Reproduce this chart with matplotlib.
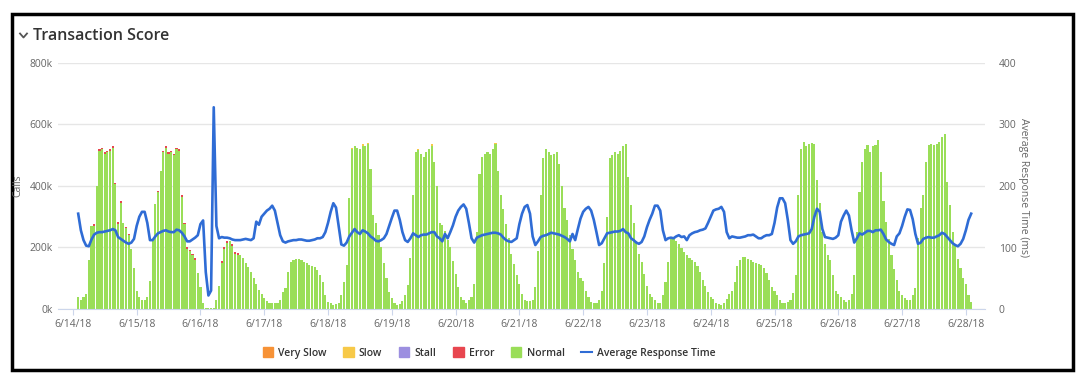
import matplotlib
matplotlib.use('Agg')
import matplotlib.pyplot as plt
from matplotlib.lines import Line2D
from matplotlib.patches import Patch, Rectangle
import numpy as np
import pandas as pd

# hourly samples, first one is 6/14/18 02:00
first_hour = 2

# calls per hour, thousands (one row per day)
calls_k = [
    38, 30, 40, 50, 160, 270, 275, 400, 520, 525, 510, 515, 520, 530, 410, 283, 350, 280, 268, 245, 195, 132,
    60, 38, 30, 30, 40, 90, 220, 340, 385, 450, 515, 530, 510, 515, 505, 525, 520, 370, 280, 200, 192, 180, 165, 118,
    70, 20, 3, 3, 3, 3, 30, 75, 155, 200, 220, 222, 210, 185, 182, 175, 165, 150, 135, 120, 100, 80, 62, 48,
    35, 25, 20, 18, 18, 20, 30, 55, 67, 121, 153, 160, 164, 162, 160, 153, 148, 142, 140, 137, 126, 110, 89, 45,
    24, 18, 13, 15, 18, 45, 89, 142, 360, 525, 530, 525, 520, 535, 530, 540, 456, 305, 280, 240, 200, 150, 100, 56,
    35, 18, 13, 15, 25, 45, 78, 165, 370, 510, 520, 505, 495, 510, 520, 535, 478, 400, 280, 272, 255, 225, 200, 155,
    115, 70, 40, 28, 20, 28, 40, 80, 250, 440, 495, 505, 510, 505, 520, 540, 450, 370, 325, 275, 230, 180, 145, 110,
    80, 48, 30, 25, 25, 30, 70, 190, 370, 490, 520, 510, 500, 505, 510, 470, 400, 330, 290, 240, 195, 160, 120, 100,
    90, 60, 40, 22, 18, 18, 30, 60, 150, 300, 490, 500, 510, 505, 515, 530, 535, 430, 337, 280, 220, 180, 153, 115,
    75, 50, 40, 29, 18, 20, 45, 89, 153, 229, 229, 220, 210, 197, 186, 175, 165, 158, 153, 140, 121, 95, 75, 56,
    40, 32, 20, 15, 13, 18, 33, 50, 60, 89, 140, 160, 170, 168, 164, 158, 153, 150, 147, 143, 133, 118, 95, 72,
    60, 45, 30, 18, 18, 22, 30, 51, 110, 370, 520, 542, 530, 535, 540, 535, 420, 345, 250, 210, 175, 160, 110, 60,
    48, 38, 30, 24, 28, 50, 110, 250, 380, 478, 520, 532, 510, 530, 532, 548, 445, 350, 283, 229, 175, 130, 95, 60,
    45, 35, 30, 29, 45, 67, 230, 330, 370, 478, 532, 537, 532, 535, 543, 559, 570, 413, 337, 250, 208, 164, 132, 100,
    80, 45, 24,
]

# average response time, ms
response_ms = [
    155, 128, 112, 103, 102, 113, 121, 124, 125, 125, 126, 127, 128, 130, 128, 117, 114, 111, 108, 106, 108, 114,
    135, 150, 158, 158, 140, 112, 112, 118, 123, 125, 127, 128, 126, 125, 125, 129, 128, 124, 118, 110, 110, 113, 116, 120,
    138, 144, 60, 22, 30, 328, 135, 115, 117, 116, 116, 115, 113, 112, 112, 112, 113, 114, 113, 112, 115, 142, 137, 150,
    155, 160, 163, 168, 160, 140, 120, 110, 108, 110, 111, 112, 112, 113, 113, 112, 111, 111, 112, 113, 115, 115, 117, 125,
    140, 158, 172, 165, 135, 105, 103, 108, 118, 124, 130, 125, 122, 128, 126, 123, 118, 115, 111, 110, 112, 115, 122, 135,
    148, 160, 160, 145, 125, 112, 109, 115, 123, 120, 117, 120, 121, 121, 123, 125, 125, 118, 115, 110, 122, 115, 125, 136,
    150, 160, 166, 170, 163, 140, 115, 108, 116, 118, 120, 121, 122, 123, 124, 124, 123, 121, 116, 112, 110, 109, 112, 115,
    138, 155, 166, 169, 155, 118, 104, 110, 117, 119, 120, 122, 124, 123, 122, 121, 119, 117, 114, 110, 122, 112, 130, 147,
    158, 163, 166, 160, 145, 125, 104, 107, 115, 123, 124, 125, 126, 126, 127, 130, 125, 123, 115, 112, 108, 106, 109, 118,
    133, 145, 155, 168, 168, 160, 128, 112, 115, 116, 115, 118, 120, 117, 118, 112, 120, 123, 125, 126, 128, 129, 131, 140,
    150, 160, 162, 163, 166, 158, 125, 115, 118, 117, 116, 116, 117, 118, 120, 120, 121, 118, 115, 115, 118, 120, 120, 122,
    140, 165, 180, 180, 172, 145, 112, 106, 110, 118, 120, 121, 122, 123, 130, 150, 163, 158, 130, 117, 116, 115, 114, 116,
    120, 142, 152, 160, 152, 128, 108, 115, 123, 121, 124, 127, 127, 125, 128, 128, 129, 122, 113, 109, 106, 104, 118, 123,
    135, 150, 162, 161, 146, 122, 106, 108, 114, 116, 117, 116, 116, 118, 120, 124, 122, 117, 112, 107, 104, 102, 106, 114,
    128, 145, 155,
]

# error / slow calls sitting on top of some bars (hour since 6/14 00:00, thousands)
error_hours = [8, 10, 11, 12, 13, 14, 15, 16, 17, 18, 20, 21, 32, 34, 35, 36, 37, 38, 39, 40,
               41, 42, 43, 44, 45, 46, 56, 57, 58, 60, 61, 62]
error_k = [5, 6, 6, 5, 6, 6, 6, 5, 5, 5, 5, 5, 5, 6, 6, 5, 6, 5, 6, 6,
           5, 5, 5, 5, 5, 5, 5, 5, 5, 5, 5, 5]
slow_hours = [105, 109, 111, 130, 135, 159]
slow_k = [4, 4, 4, 4, 4, 4]

days = pd.date_range('2018-06-14', '2018-06-28', freq='D')

plt.rcParams['font.family'] = ['Open Sans', 'DejaVu Sans']

c_vslow = '#f79236'
c_slow = '#f7c948'
c_stall = '#9c8fe0'
c_error = '#e8464f'
c_normal = '#9ade58'
c_line = '#2f6cd5'
c_text = '#666666'
c_grid = '#e6e6e6'

hours = np.arange(first_hour, first_hour + len(calls_k))
calls = np.array(calls_k, dtype=float) * 1000
error = np.zeros(len(calls))
error[np.array(error_hours) - first_hour] = np.array(error_k) * 1000
slow = np.zeros(len(calls))
slow[np.array(slow_hours) - first_hour] = np.array(slow_k) * 1000
normal = calls - error - slow

W, H = 1084, 386
fig = plt.figure(figsize=(W / 100, H / 100), dpi=100)
ax = fig.add_axes([58 / W, 77 / H, (985 - 58) / W, 246 / H])

ax.bar(hours, normal, width=0.8, color=c_normal, linewidth=0, zorder=2)
ax.bar(hours, error, width=0.8, bottom=normal, color=c_error, linewidth=0, zorder=2)
ax.bar(hours, slow, width=0.8, bottom=normal + error, color=c_slow, linewidth=0, zorder=2)

ax.set_xlim(-5.6, 343.2)
ax.set_ylim(0, 800000)
ax.set_yticks([0, 200000, 400000, 600000, 800000])
ax.set_yticklabels(['0k', '200k', '400k', '600k', '800k'])
ax.set_xticks(np.arange(len(days)) * 24)
ax.set_xticklabels([f'{d.month}/{d.day}/{d:%y}' for d in days])
ax.grid(axis='y', color=c_grid, linewidth=1, zorder=0)
ax.set_axisbelow(True)
for s in ['top', 'left', 'right']:
    ax.spines[s].set_visible(False)
ax.spines['bottom'].set_color('#ccd6eb')
ax.tick_params(axis='y', length=0, pad=4, labelsize=7.5, labelcolor=c_text)
ax.tick_params(axis='x', length=4, color='#ccd6eb', pad=3, labelsize=7.5, labelcolor=c_text)

ax2 = ax.twinx()
ax2.plot(hours, response_ms, color=c_line, linewidth=1.9, zorder=3)
ax2.set_ylim(0, 400)
ax2.set_yticks([0, 100, 200, 300, 400])
ax2.tick_params(axis='y', length=0, pad=10, labelsize=7.5, labelcolor=c_text)
for s in ax2.spines.values():
    s.set_visible(False)

fig.text(18 / W, 1 - 186 / H, 'Calls', rotation=90, ha='center', va='center',
         fontsize=7.5, color=c_text)
fig.text(1024 / W, 1 - 187 / H, 'Average Response Time (ms)', rotation=270,
         ha='center', va='center', fontsize=7.5, color=c_text)

# panel header
fig.text(33 / W, 1 - 36 / H, 'Transaction Score', fontsize=11.5, color='#333333',
         ha='left', va='center', fontweight='semibold')
fig.add_artist(Line2D([20 / W, 23.5 / W, 27 / W], [1 - 33.5 / H, 1 - 37.5 / H, 1 - 33.5 / H],
                      color='#555555', linewidth=1.3))
fig.add_artist(Rectangle((12 / W, 1 - 370 / H), (1073 - 12) / W, (370 - 14) / H,
                         transform=fig.transFigure, fill=False, edgecolor='black', linewidth=2.5))

handles = [Patch(color=c_vslow), Patch(color=c_slow), Patch(color=c_stall),
           Patch(color=c_error), Patch(color=c_normal), Line2D([], [], color=c_line, linewidth=1.5)]
labels = ['Very Slow', 'Slow', 'Stall', 'Error', 'Normal', 'Average Response Time']
leg = fig.legend(handles, labels, loc='center', bbox_to_anchor=(489 / W, 1 - 353 / H), ncol=6,
                 frameon=False, handlelength=1.0, handleheight=1.0, handletextpad=0.5,
                 columnspacing=1.6, prop={'size': 7.5, 'weight': 'semibold'})
for t in leg.get_texts():
    t.set_color('#333333')

fig.savefig('out.png', dpi=100)
